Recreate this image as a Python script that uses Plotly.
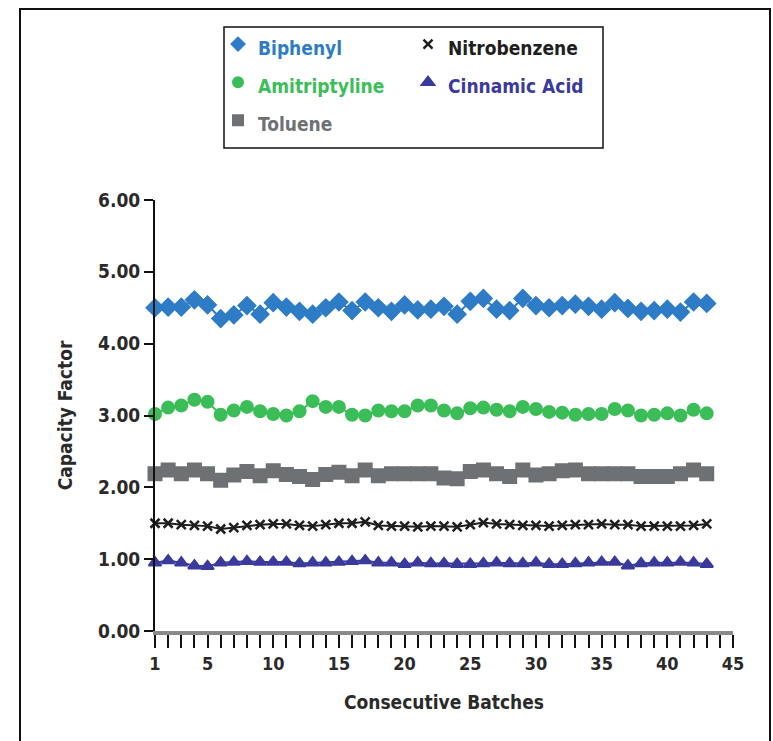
import plotly.graph_objects as go

batches = list(range(1, 44))

biphenyl = [4.50, 4.51, 4.51, 4.61, 4.54, 4.35, 4.40, 4.53, 4.41, 4.57, 4.51,
            4.45, 4.41, 4.50, 4.58, 4.46, 4.58, 4.50, 4.45, 4.54, 4.47, 4.48,
            4.52, 4.41, 4.59, 4.63, 4.48, 4.46, 4.63, 4.53, 4.50, 4.53, 4.55,
            4.52, 4.48, 4.57, 4.49, 4.45, 4.46, 4.48, 4.44, 4.58, 4.56]
amitriptyline = [3.02, 3.11, 3.14, 3.22, 3.19, 3.01, 3.07, 3.12, 3.06, 3.02, 3.00,
                 3.06, 3.20, 3.12, 3.12, 3.01, 3.00, 3.07, 3.06, 3.06, 3.14, 3.14,
                 3.07, 3.03, 3.10, 3.11, 3.08, 3.06, 3.12, 3.09, 3.05, 3.04, 3.01,
                 3.02, 3.02, 3.09, 3.07, 3.00, 3.01, 3.03, 3.00, 3.08, 3.03]
toluene = [2.19, 2.24, 2.19, 2.24, 2.19, 2.10, 2.17, 2.22, 2.16, 2.23, 2.18,
           2.15, 2.11, 2.18, 2.21, 2.16, 2.24, 2.16, 2.19, 2.19, 2.19, 2.19,
           2.13, 2.12, 2.22, 2.24, 2.19, 2.15, 2.24, 2.17, 2.19, 2.23, 2.24,
           2.19, 2.19, 2.19, 2.19, 2.15, 2.15, 2.15, 2.19, 2.24, 2.19]
nitrobenzene = [1.50, 1.50, 1.48, 1.47, 1.46, 1.42, 1.44, 1.47, 1.48, 1.49, 1.49,
                1.47, 1.46, 1.48, 1.50, 1.50, 1.52, 1.47, 1.46, 1.46, 1.45, 1.46,
                1.46, 1.45, 1.48, 1.51, 1.49, 1.48, 1.47, 1.47, 1.46, 1.47, 1.48,
                1.48, 1.49, 1.48, 1.48, 1.46, 1.46, 1.46, 1.46, 1.47, 1.49]
cinnamic_acid = [0.95, 0.98, 0.95, 0.91, 0.90, 0.95, 0.96, 0.97, 0.96, 0.96, 0.96,
                 0.94, 0.95, 0.95, 0.96, 0.97, 0.98, 0.95, 0.95, 0.93, 0.95, 0.94,
                 0.94, 0.93, 0.93, 0.94, 0.95, 0.94, 0.94, 0.95, 0.93, 0.93, 0.94,
                 0.95, 0.96, 0.96, 0.91, 0.94, 0.95, 0.95, 0.96, 0.95, 0.93]

y_ticks = [0, 1, 2, 3, 4, 5, 6]
x_ticks = [1, 5, 10, 15, 20, 25, 30, 35, 40, 45]

FONT = "DejaVu Sans Condensed, Liberation Sans Narrow, Arial Narrow, sans-serif"
TXT = "#2a2a2a"

# name, values, colour, symbol, marker size, legend size, outline width, legend column
series = [
    ("Biphenyl", biphenyl, "#2e7cc6", "diamond", 13, 10, 2, "legend"),
    ("Nitrobenzene", nitrobenzene, "#1e1e1e", "x-thin-open", 9, 9, 2.5, "legend2"),
    ("Amitriptyline", amitriptyline, "#3bbd57", "circle", 12, 10, 2, "legend"),
    ("Cinnamic Acid", cinnamic_acid, "#3a3a9c", "triangle-up", 11, 11, 2, "legend2"),
    ("Toluene", toluene, "#6d7173", "square", 13, 10, 2, "legend"),
]

fig = go.Figure()
for name, vals, color, sym, size, lsize, lw, lg in series:
    fig.add_trace(go.Scatter(
        x=batches, y=vals, mode="lines+markers", showlegend=False,
        line=dict(color=color, width=2),
        marker=dict(symbol=sym, size=size, color=color,
                    line=dict(color=color, width=lw)),
        cliponaxis=False, name=name))
for name, vals, color, sym, size, lsize, lw, lg in series:
    fig.add_trace(go.Scatter(
        x=[None], y=[None], mode="markers", legend=lg,
        name=f"<span style='color:{color};font-size:19px'>{name}</span>",
        marker=dict(symbol=sym, size=lsize, color=color,
                    line=dict(color=color, width=lw))))

PW, PH, L, B = 578, 431, 155, 631


def px_x(v):
    return (v - L) / PW


def px_y(v):
    return (B - v) / PH


legend_common = dict(
    orientation="v", xanchor="left", yanchor="top",
    bgcolor="rgba(0,0,0,0)", borderwidth=0,
    font=dict(family=FONT, size=27, weight="bold", color=TXT),
)

fig.update_layout(
    width=773, height=741,
    margin=dict(l=155, r=40, t=200, b=110),
    paper_bgcolor="white", plot_bgcolor="white",
    font=dict(family=FONT, color=TXT, size=18, weight="bold"),
    legend=dict(x=px_x(218), y=px_y(20), **legend_common),
    legend2=dict(x=px_x(408), y=px_y(20), **legend_common),
    xaxis=dict(
        range=[1, 45], tickvals=x_ticks, ticks="outside", ticklen=13,
        tickwidth=1.5, tickcolor="#111", showline=True, linecolor="#8a8a8a",
        linewidth=4, showgrid=False, zeroline=False,
        minor=dict(dtick=1, tick0=1, ticks="outside", ticklen=13,
                   tickwidth=1.5, tickcolor="#111", showgrid=False),
        tickfont=dict(family=FONT, size=18, weight="bold", color=TXT),
        title=dict(text="Consecutive Batches", standoff=24,
                   font=dict(family=FONT, size=19, weight="bold", color=TXT)),
    ),
    yaxis=dict(
        range=[0, 6], tickvals=y_ticks, tickformat=".2f", ticks="outside",
        ticklen=9, tickwidth=2, tickcolor="#111", showline=True,
        linecolor="#111", linewidth=2, showgrid=False, zeroline=False,
        tickfont=dict(family=FONT, size=19, weight="bold", color=TXT),
        title=dict(text="Capacity Factor", standoff=20,
                   font=dict(family=FONT, size=19, weight="bold", color=TXT)),
    ),
    shapes=[
        dict(type="rect", xref="paper", yref="paper",
             x0=px_x(20), x1=px_x(770), y0=px_y(760), y1=px_y(9),
             line=dict(color="#111", width=2), fillcolor="rgba(0,0,0,0)",
             layer="below"),
        dict(type="rect", xref="paper", yref="paper",
             x0=px_x(224), x1=px_x(603), y0=px_y(148), y1=px_y(27),
             line=dict(color="#111", width=1.5), fillcolor="rgba(0,0,0,0)",
             layer="below"),
    ],
)

fig.write_html(
    "out.html",
    config={"displayModeBar": False, "responsive": False},
    post_script="document.body.style.margin='0px';",
)
